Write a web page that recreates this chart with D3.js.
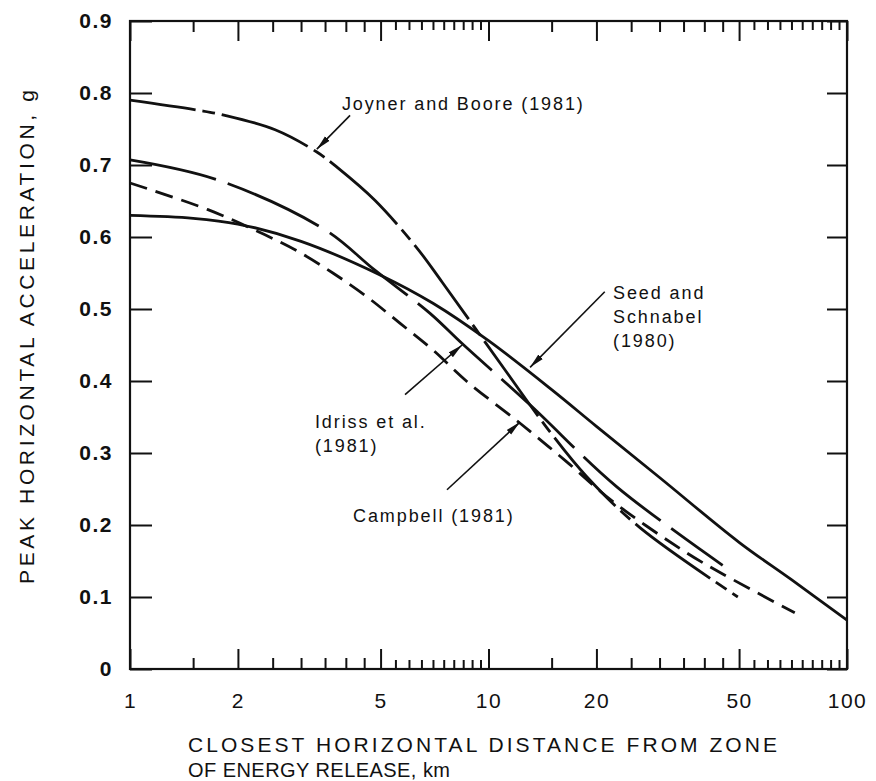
<!DOCTYPE html>
<html>
<head>
<meta charset="utf-8">
<script src="https://cdn.jsdelivr.net/npm/d3@7"></script>
<style>
  body { margin: 0; background: #fff; }
  text { font-family: "Liberation Sans", Arial, sans-serif; fill: #111; }
</style>
</head>
<body>
<div id="chart"></div>
<script>
// distance in km, peak acceleration in g
const seedDist = [1, 1.5, 2, 3, 5, 7, 10, 15, 20, 30, 50, 70, 100];
const seedPga  = [0.63, 0.626, 0.618, 0.594, 0.547, 0.508, 0.456, 0.388, 0.337, 0.266, 0.176, 0.124, 0.068];

const idrissDist = [1, 1.76, 3.5, 4.82, 6.87, 8.44, 13.05, 22.8, 45];
const idrissPga  = [0.707, 0.679, 0.61, 0.554, 0.494, 0.452, 0.367, 0.253, 0.144];

const campbellDist = [1, 1.65, 2.38, 2.94, 3.68, 4.58, 5.67, 7, 8.72, 12.2, 16.5, 22.3, 35.8, 45, 71.5];
const campbellPga  = [0.675, 0.638, 0.603, 0.58, 0.55, 0.517, 0.48, 0.443, 0.399, 0.342, 0.288, 0.232, 0.161, 0.132, 0.078];

const joynerDist = [1, 1.55, 1.84, 2.54, 3.32, 3.8, 4.82, 6.31, 7.42, 10.77, 14.5, 18.8, 26.5, 49.6];
const joynerPga  = [0.79, 0.776, 0.769, 0.749, 0.718, 0.696, 0.651, 0.585, 0.5375, 0.425, 0.336, 0.267, 0.196, 0.10];

// axis ticks
const xMajor = [1, 2, 5, 10, 20, 50, 100];
const xMinor = [1.5, 2.5, 3, 3.5, 4, 4.5, 15, 25, 30, 35, 40, 45];
const xDense = [5.5, 6, 6.5, 7, 7.5, 8, 8.5, 9, 9.5, 55, 60, 65, 70, 75, 80, 85, 90, 95];
const yTicks = [0, 0.1, 0.2, 0.3, 0.4, 0.5, 0.6, 0.7, 0.8, 0.9];

// annotations: label lines, label anchor and arrow (data units)
const noteLabels = [["Joyner and Boore (1981)"], ["Seed and", "Schnabel", "(1980)"], ["Idriss et al.", "(1981)"], ["Campbell (1981)"]];
const noteAt     = [[3.9, 0.776], [22.25, 0.514], [3.28, 0.335], [4.19, 0.204]];
const arrowFrom  = [[4.11, 0.769], [21.1, 0.524], [5.85, 0.381], [7.66, 0.249]];
const arrowTo    = [[3.32, 0.722], [13.06, 0.419], [8.44, 0.45], [12.24, 0.343]];

var margin = {top: 21, right: 29, bottom: 112, left: 130},
    width = 876 - margin.left - margin.right,
    height = 781 - margin.top - margin.bottom;

var svg = d3.select("#chart").append("svg")
    .attr("width", 876).attr("height", 781);
var g = svg.append("g")
    .attr("transform", "translate(" + margin.left + "," + margin.top + ")");

var x = d3.scaleLog().domain([1, 100]).range([0, width]);
var y = d3.scaleLinear().domain([0, 0.9]).range([height, 0]);

svg.append("defs").append("marker")
    .attr("id", "head")
    .attr("markerUnits", "userSpaceOnUse")
    .attr("markerWidth", 16).attr("markerHeight", 8)
    .attr("refX", 15).attr("refY", 4)
    .attr("orient", "auto")
  .append("path").attr("d", "M0,0.8 L15,4 L0,7.2 Z").attr("fill", "#111");

// ticks on all four sides, pointing inward
function styleAxis(sel) {
  sel.select(".domain").remove();
  sel.selectAll(".tick line").attr("stroke", "#111").attr("stroke-width", 2);
}
function xTicks(axisFn, vals, len, ty) {
  g.append("g").attr("transform", "translate(0," + ty + ")")
    .call(axisFn(x).tickValues(vals).tickSize(-len).tickFormat(""))
    .call(styleAxis);
}
xTicks(d3.axisBottom, xDense, 9, height);
xTicks(d3.axisBottom, xMinor, 11, height);
xTicks(d3.axisTop, xDense, 9, 0);
xTicks(d3.axisTop, xMinor, 11, 0);
xTicks(d3.axisTop, xMajor, 20, 0);

g.append("g").attr("transform", "translate(0," + height + ")")
  .call(d3.axisBottom(x).tickValues(xMajor).tickSize(-20).tickPadding(24).tickFormat(d3.format("d")))
  .call(styleAxis)
  .selectAll("text").attr("font-size", 21).attr("letter-spacing", 1.5).attr("fill", "#111");

g.append("g")
  .call(d3.axisLeft(y).tickValues(yTicks).tickSize(-22).tickPadding(17)
    .tickFormat(d => d === 0 ? "0" : d3.format(".1f")(d)))
  .call(styleAxis)
  .selectAll("text").attr("font-size", 21).attr("letter-spacing", 1.5).attr("font-weight", "bold").attr("fill", "#111");

g.append("g").attr("transform", "translate(" + width + ",0)")
  .call(d3.axisRight(y).tickValues(yTicks).tickSize(-20).tickFormat(""))
  .call(styleAxis);

g.append("rect")
  .attr("width", width).attr("height", height)
  .attr("fill", "none").attr("stroke", "#111").attr("stroke-width", 2.2);

// curves
var line = d3.line()
  .x(d => x(d[0])).y(d => y(d[1]))
  .curve(d3.curveCatmullRom.alpha(0.5));

var series = [
  {dist: seedDist, pga: seedPga, dash: null, off: 0},
  {dist: idrissDist, pga: idrissPga, dash: "100,13", off: 12},
  {dist: campbellDist, pga: campbellPga, dash: "18,9", off: 0},
  {dist: joynerDist, pga: joynerPga, dash: "92,7,13,7", off: 26}
];
series.forEach(s => {
  g.append("path")
    .datum(d3.zip(s.dist, s.pga))
    .attr("d", line)
    .attr("fill", "none")
    .attr("stroke", "#111")
    .attr("stroke-width", 2.8)
    .attr("stroke-dasharray", s.dash)
    .attr("stroke-dashoffset", s.off);
});

// annotations
noteLabels.forEach((lines, i) => {
  var t = g.append("text")
    .attr("x", x(noteAt[i][0])).attr("y", y(noteAt[i][1]))
    .attr("font-size", 18).attr("letter-spacing", 1.9);
  lines.forEach((l, j) => {
    t.append("tspan").attr("x", x(noteAt[i][0])).attr("dy", j === 0 ? 0 : 24).text(l);
  });
  g.append("line")
    .attr("x1", x(arrowFrom[i][0])).attr("y1", y(arrowFrom[i][1]))
    .attr("x2", x(arrowTo[i][0])).attr("y2", y(arrowTo[i][1]))
    .attr("stroke", "#111").attr("stroke-width", 1.6)
    .attr("marker-end", "url(#head)");
});

// axis titles
svg.append("text")
  .attr("transform", "translate(34,337) rotate(-90)")
  .attr("text-anchor", "middle")
  .attr("font-size", 21)
  .attr("textLength", 494).attr("lengthAdjust", "spacing")
  .text("PEAK HORIZONTAL ACCELERATION, g");

svg.append("text")
  .attr("x", 188).attr("y", 752)
  .attr("font-size", 21)
  .attr("textLength", 589).attr("lengthAdjust", "spacing")
  .text("CLOSEST HORIZONTAL DISTANCE FROM ZONE");
svg.append("text")
  .attr("x", 188).attr("y", 777)
  .attr("font-size", 20)
  .attr("textLength", 262).attr("lengthAdjust", "spacing")
  .text("OF ENERGY RELEASE, km");
</script>
</body>
</html>
